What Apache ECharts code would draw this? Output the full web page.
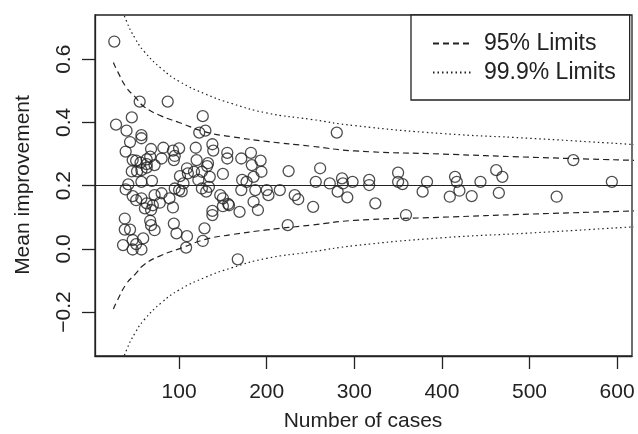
<!DOCTYPE html>
<html>
<head>
<meta charset="UTF-8">
<title>Funnel plot</title>
<script src="https://cdn.jsdelivr.net/npm/echarts@6.0.0/dist/echarts.min.js"></script>
<style>
  body { margin: 0; background: #fff; }
  #chart { width: 638px; height: 434px; }
</style>
</head>
<body>
<div id="chart"></div>
<script>
// number of cases per unit and its mean improvement
var cases = [26, 28, 40, 44, 46, 55, 57, 57, 39, 51, 47, 56, 63, 63, 67, 46, 52, 57, 63, 42, 57, 39,
  87, 68, 82, 72, 80, 93, 100, 95, 94, 69, 101,
  47, 51, 57, 63, 61, 70, 72, 80, 78, 68, 38, 38, 44, 67, 68, 72, 47, 59, 36, 47, 57, 51,
  89, 93, 94, 97, 109, 108, 129, 127, 138, 138, 150, 157, 169, 167, 147, 150, 156,
  127, 123, 130, 119, 120, 109, 110, 117, 126, 132, 135, 150, 122, 105, 95, 100, 126, 134, 131, 138, 139, 155, 155, 133, 103,
  171, 182, 183, 193, 194, 185, 177, 171, 172, 187, 200, 202, 225, 215, 232, 236, 185, 190, 224,
  256, 261, 272, 280, 281, 286, 287, 292, 298, 317, 317, 324, 350, 350, 355, 359, 378, 383,
  415, 417, 420, 409, 434, 444, 462, 469, 465, 550, 531, 594, 253];
var improvement = [0.656, 0.393, 0.374, 0.338, 0.416, 0.466, 0.360, 0.350, 0.308, 0.279, 0.281, 0.273, 0.268, 0.283, 0.292, 0.245, 0.245, 0.249, 0.257, 0.204, 0.212, 0.188,
  0.466, 0.316, 0.320, 0.265, 0.286, 0.311, 0.318, 0.294, 0.281, 0.215, 0.230,
  0.167, 0.154, 0.160, 0.144, 0.128, 0.138, 0.170, 0.176, 0.146, 0.123, 0.096, 0.061, 0.061, 0.089, 0.075, 0.059, 0.028, 0.033, 0.012, -0.002, -0.002, 0.015,
  0.160, 0.131, 0.080, 0.049, 0.040, 0.004, 0.065, 0.025, 0.120, 0.107, 0.135, 0.138, 0.117, -0.033, 0.170, 0.160, 0.142,
  0.420, 0.368, 0.374, 0.320, 0.281, 0.255, 0.239, 0.244, 0.244, 0.262, 0.228, 0.237, 0.218, 0.207, 0.191, 0.186, 0.191, 0.196, 0.181, 0.331, 0.311, 0.304, 0.286, 0.271, 0.182,
  0.286, 0.304, 0.265, 0.279, 0.244, 0.228, 0.212, 0.186, 0.218, 0.186, 0.186, 0.170, 0.246, 0.186, 0.170, 0.157, 0.149, 0.123, 0.075,
  0.212, 0.255, 0.207, 0.368, 0.181, 0.223, 0.207, 0.163, 0.212, 0.218, 0.202, 0.144, 0.241, 0.212, 0.205, 0.107, 0.181, 0.212,
  0.228, 0.212, 0.184, 0.165, 0.167, 0.212, 0.249, 0.228, 0.177, 0.281, 0.165, 0.212, 0.133];

var overallMean = 0.2;

// control limits at a few case counts
var limitCases = [25, 30, 40, 50, 60, 80, 100, 130, 160, 200, 250, 300, 400, 500, 620];
var upper95 = [0.59, 0.56, 0.51, 0.48, 0.45, 0.42, 0.40, 0.37, 0.355, 0.34, 0.325, 0.31, 0.30, 0.29, 0.28];
var lower95 = [-0.19, -0.16, -0.11, -0.08, -0.05, -0.02, 0.00, 0.03, 0.045, 0.06, 0.075, 0.09, 0.10, 0.11, 0.12];
var upper999 = [0.86, 0.80, 0.72, 0.665, 0.625, 0.57, 0.53, 0.49, 0.46, 0.43, 0.41, 0.39, 0.365, 0.35, 0.33];
var lower999 = [-0.46, -0.40, -0.32, -0.265, -0.225, -0.17, -0.13, -0.09, -0.06, -0.03, -0.01, 0.01, 0.035, 0.05, 0.07];

var xTicks = [100, 200, 300, 400, 500, 600];
var yTicks = [-0.2, 0.0, 0.2, 0.4, 0.6];

// axis ranges (R pads the data range by 4%)
var xMin = 4, xMax = 617;
var yMin = -0.339, yMax = 0.740;

var ink = '#222';
var font = 'Liberation Sans, Arial, sans-serif';

// custom ticks disappear in this echarts build, so ticks and labels come from
// category "rulers" laid over the value axes: one slot per case / per 0.001
var xRuler = [];
for (var n = xMin; n <= xMax; n++) xRuler.push(String(n));
var yRuler = [];
for (var k = Math.round(yMin * 1000); k <= Math.round(yMax * 1000); k++) yRuler.push(String(k));

function isXTick(i, v) { return xTicks.indexOf(Number(v)) >= 0; }
function isYTick(i, v) {
  return yTicks.some(function (t) { return Math.round(t * 1000) === Number(v); });
}
function fmtY(v) {
  var x = Number(v) / 1000;
  return (x < 0 ? '\u2212' : '') + Math.abs(x).toFixed(1);
}

function pairs(xs, ys) {
  return xs.map(function (x, i) { return [x, ys[i]]; });
}

function limitLine(name, ys, dash) {
  return {
    name: name,
    type: 'line',
    data: pairs(limitCases, ys),
    smooth: true,
    symbol: 'none',
    silent: true,
    clip: true,
    itemStyle: { color: ink },
    lineStyle: { color: ink, width: 1.2, type: dash }
  };
}

function axisTitle(text, x, y, rotation) {
  return {
    type: 'text', x: x, y: y, rotation: rotation, silent: true,
    style: {
      text: text, fill: ink, fontSize: 21, fontFamily: font,
      align: 'center', verticalAlign: 'middle', textAlign: 'center', textVerticalAlign: 'middle'
    }
  };
}

var chart = echarts.init(document.getElementById('chart'));

var option = {
  animation: false,
  textStyle: { fontFamily: font },
  grid: {
    left: 95, top: 15, right: 6, bottom: 78,
    show: true, borderColor: ink, borderWidth: 1.3, backgroundColor: 'transparent'
  },
  graphic: [
    axisTitle('Number of cases', 363, 421, 0),
    axisTitle('Mean improvement', 23, 185, Math.PI / 2)
  ],
  legend: {
    data: ['95% Limits', '99.9% Limits'],
    orient: 'vertical',
    left: 411, top: 15,
    padding: [17, 14, 16, 21],
    itemWidth: 38, itemHeight: 14, itemGap: 6,
    itemStyle: { opacity: 0 },
    backgroundColor: '#fff',
    borderColor: ink, borderWidth: 1.3, borderRadius: 0,
    selectedMode: false,
    textStyle: { fontSize: 23, color: ink, fontFamily: font, lineHeight: 23, padding: [0, 0, 0, 8] }
  },
  xAxis: [{
    type: 'value', min: xMin, max: xMax, show: false
  }, {
    type: 'category',
    data: xRuler,
    boundaryGap: false,
    position: 'bottom',
    axisLine: { show: true, onZero: false, lineStyle: { color: ink, width: 1.3 } },
    splitLine: { show: false },
    axisTick: { show: true, length: 13, interval: isXTick, lineStyle: { color: ink, width: 1.3 } },
    axisLabel: { interval: isXTick, fontSize: 21, color: ink, margin: 26, fontFamily: font }
  }],
  yAxis: [{
    type: 'value', min: yMin, max: yMax, show: false
  }, {
    type: 'category',
    data: yRuler,
    boundaryGap: false,
    position: 'left',
    axisLine: { show: true, onZero: false, lineStyle: { color: ink, width: 1.3 } },
    splitLine: { show: false },
    axisTick: { show: true, length: 13, interval: isYTick, lineStyle: { color: ink, width: 1.3 } },
    axisLabel: {
      interval: isYTick, fontSize: 21, color: ink, margin: 20, rotate: 90, fontFamily: font,
      formatter: fmtY
    }
  }],
  series: [
    {
      name: 'units',
      type: 'scatter',
      data: pairs(cases, improvement),
      symbol: 'circle',
      symbolSize: 11,
      silent: true,
      itemStyle: { color: 'rgba(0,0,0,0)', borderColor: ink, borderWidth: 1.3 },
      markLine: {
        silent: true,
        symbol: ['none', 'none'],
        label: { show: false },
        lineStyle: { color: ink, type: 'solid', width: 1.2 },
        data: [{ yAxis: overallMean }]
      }
    },
    limitLine('95% Limits', upper95, [6, 4]),
    limitLine('95% Limits', lower95, [6, 4]),
    limitLine('99.9% Limits', upper999, [1.5, 3]),
    limitLine('99.9% Limits', lower999, [1.5, 3])
  ]
};

chart.setOption(option);
</script>
</body>
</html>
